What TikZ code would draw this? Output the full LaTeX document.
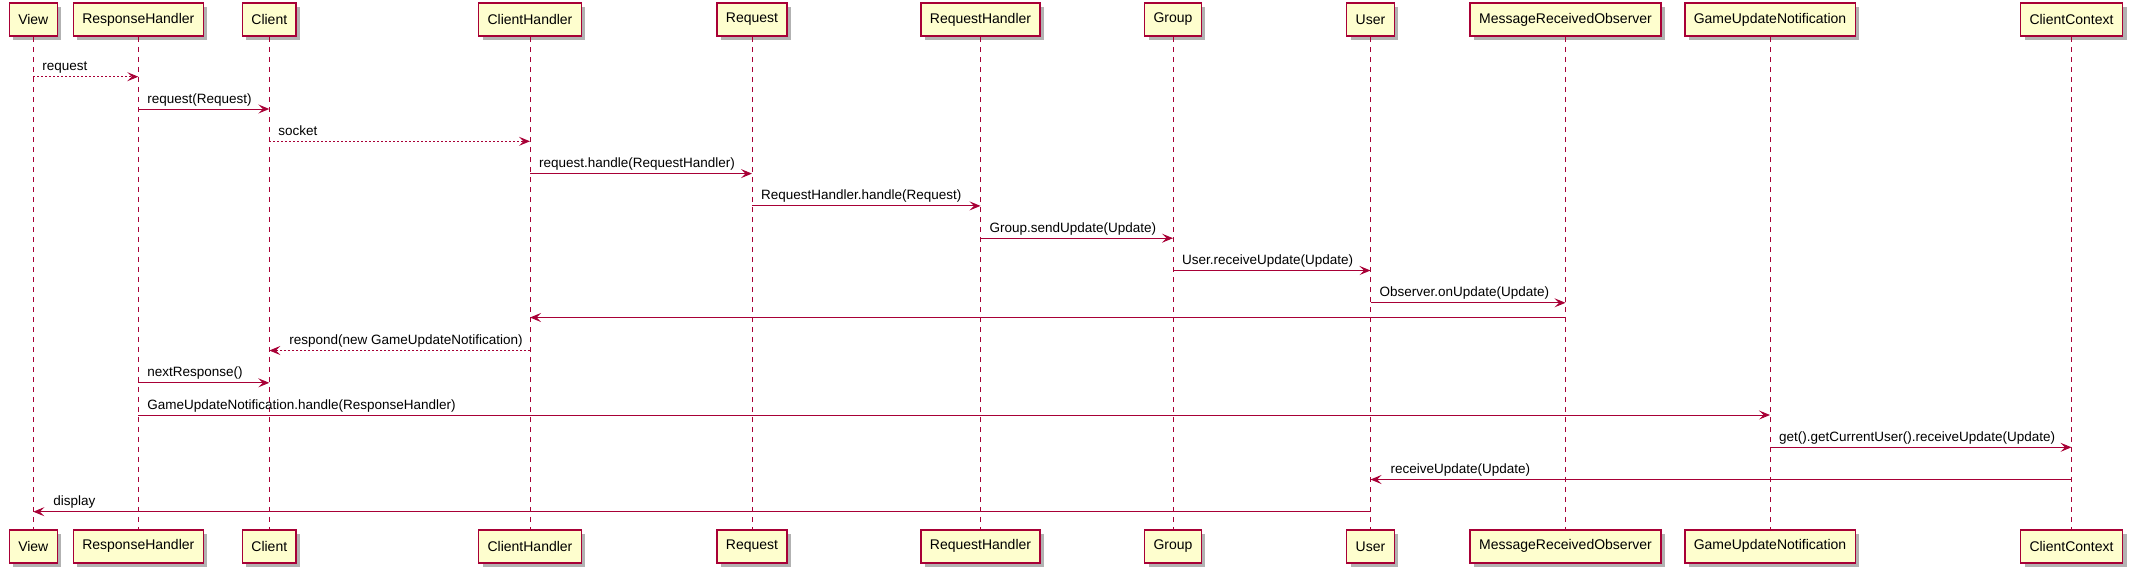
\documentclass[tikz,border=0pt]{standalone}
\usepackage{fontspec}
\setmainfont{Liberation Sans}
\usetikzlibrary{arrows.meta,shadows}
\definecolor{pumlred}{HTML}{A80036}
\definecolor{pumlfill}{HTML}{FEFECE}
\begin{document}
\begin{tikzpicture}[x=1pt,y=-1pt,
  part/.style={draw=pumlred, line width=1.5pt, fill=pumlfill,
    font=\fontsize{14}{16}\selectfont, minimum height=33pt, inner xsep=9pt, inner ysep=0pt,
    drop shadow={shadow xshift=4pt, shadow yshift=-4pt, opacity=0.3, fill=black}},
  lifeline/.style={draw=pumlred, line width=1pt, dash pattern=on 5pt off 5pt},
  msg/.style={draw=pumlred, line width=1pt, -{Stealth[length=11pt,width=9pt,inset=4.5pt]}},
  ret/.style={msg, dash pattern=on 2pt off 2pt},
  lbl/.style={font=\fontsize{13.5}{15}\selectfont, text=black, inner sep=0pt, anchor=base west},
]
\useasboundingbox (0,0) rectangle (2132,574);
% participants (top and bottom)
\foreach \n/\x/\t in {v/33.3/View, rh/138.3/ResponseHandler, cl/269.3/Client, ch/530/ClientHandler,
  rq/752/Request, rqh/980.5/RequestHandler, gr/1173/Group, us/1370.5/User,
  mro/1565.5/MessageReceivedObserver, gun/1770/GameUpdateNotification, cc/2071.5/ClientContext}{
  \node[part] (\n T) at (\x,19.5) {\t};
  \node[part] (\n B) at (\x,546.3) {\t};
}
% lifelines
\foreach \n in {v,rh,cl,ch,rq,rqh,gr,us,mro,gun,cc}{
  \draw[lifeline] (\n T.south) -- (\n B.north);
}
% message rows
\foreach \i/\y in {1/76.7, 2/109, 3/141.3, 4/173.6, 5/205.9, 6/238.2, 7/270.5, 8/302.8, 9/317.5,
  10/350.5, 11/382.8, 12/415, 13/447.3, 14/479.5, 15/511.7}{
  \coordinate (r\i) at (0,\y);
}
\draw[ret] (vT |- r1) -- (rhT |- r1) node[lbl, pos=0, xshift=8.5pt, yshift=6pt] {request};
\draw[msg] (rhT |- r2) -- (clT |- r2) node[lbl, pos=0, xshift=8.5pt, yshift=6pt] {request(Request)};
\draw[ret] (clT |- r3) -- (chT |- r3) node[lbl, pos=0, xshift=8.5pt, yshift=6pt] {socket};
\draw[msg] (chT |- r4) -- (rqT |- r4) node[lbl, pos=0, xshift=8.5pt, yshift=6pt] {request.handle(RequestHandler)};
\draw[msg] (rqT |- r5) -- (rqhT |- r5) node[lbl, pos=0, xshift=8.5pt, yshift=6pt] {RequestHandler.handle(Request)};
\draw[msg] (rqhT |- r6) -- (grT |- r6) node[lbl, pos=0, xshift=8.5pt, yshift=6pt] {Group.sendUpdate(Update)};
\draw[msg] (grT |- r7) -- (usT |- r7) node[lbl, pos=0, xshift=8.5pt, yshift=6pt] {User.receiveUpdate(Update)};
\draw[msg] (usT |- r8) -- (mroT |- r8) node[lbl, pos=0, xshift=8.5pt, yshift=6pt] {Observer.onUpdate(Update)};
\draw[msg] (mroT |- r9) -- (chT |- r9);
\draw[ret] (chT |- r10) -- (clT |- r10) node[lbl, pos=1, xshift=19.5pt, yshift=6pt] {respond(new GameUpdateNotification)};
\draw[msg] (rhT |- r11) -- (clT |- r11) node[lbl, pos=0, xshift=8.5pt, yshift=6pt] {nextResponse()};
\draw[msg] (rhT |- r12) -- (gunT |- r12) node[lbl, pos=0, xshift=8.5pt, yshift=6pt] {GameUpdateNotification.handle(ResponseHandler)};
\draw[msg] (gunT |- r13) -- (ccT |- r13) node[lbl, pos=0, xshift=8.5pt, yshift=6pt] {get().getCurrentUser().receiveUpdate(Update)};
\draw[msg] (ccT |- r14) -- (usT |- r14) node[lbl, pos=1, xshift=19.5pt, yshift=6pt] {receiveUpdate(Update)};
\draw[msg] (usT |- r15) -- (vT |- r15) node[lbl, pos=1, xshift=19.5pt, yshift=6pt] {display};
\end{tikzpicture}
\end{document}
